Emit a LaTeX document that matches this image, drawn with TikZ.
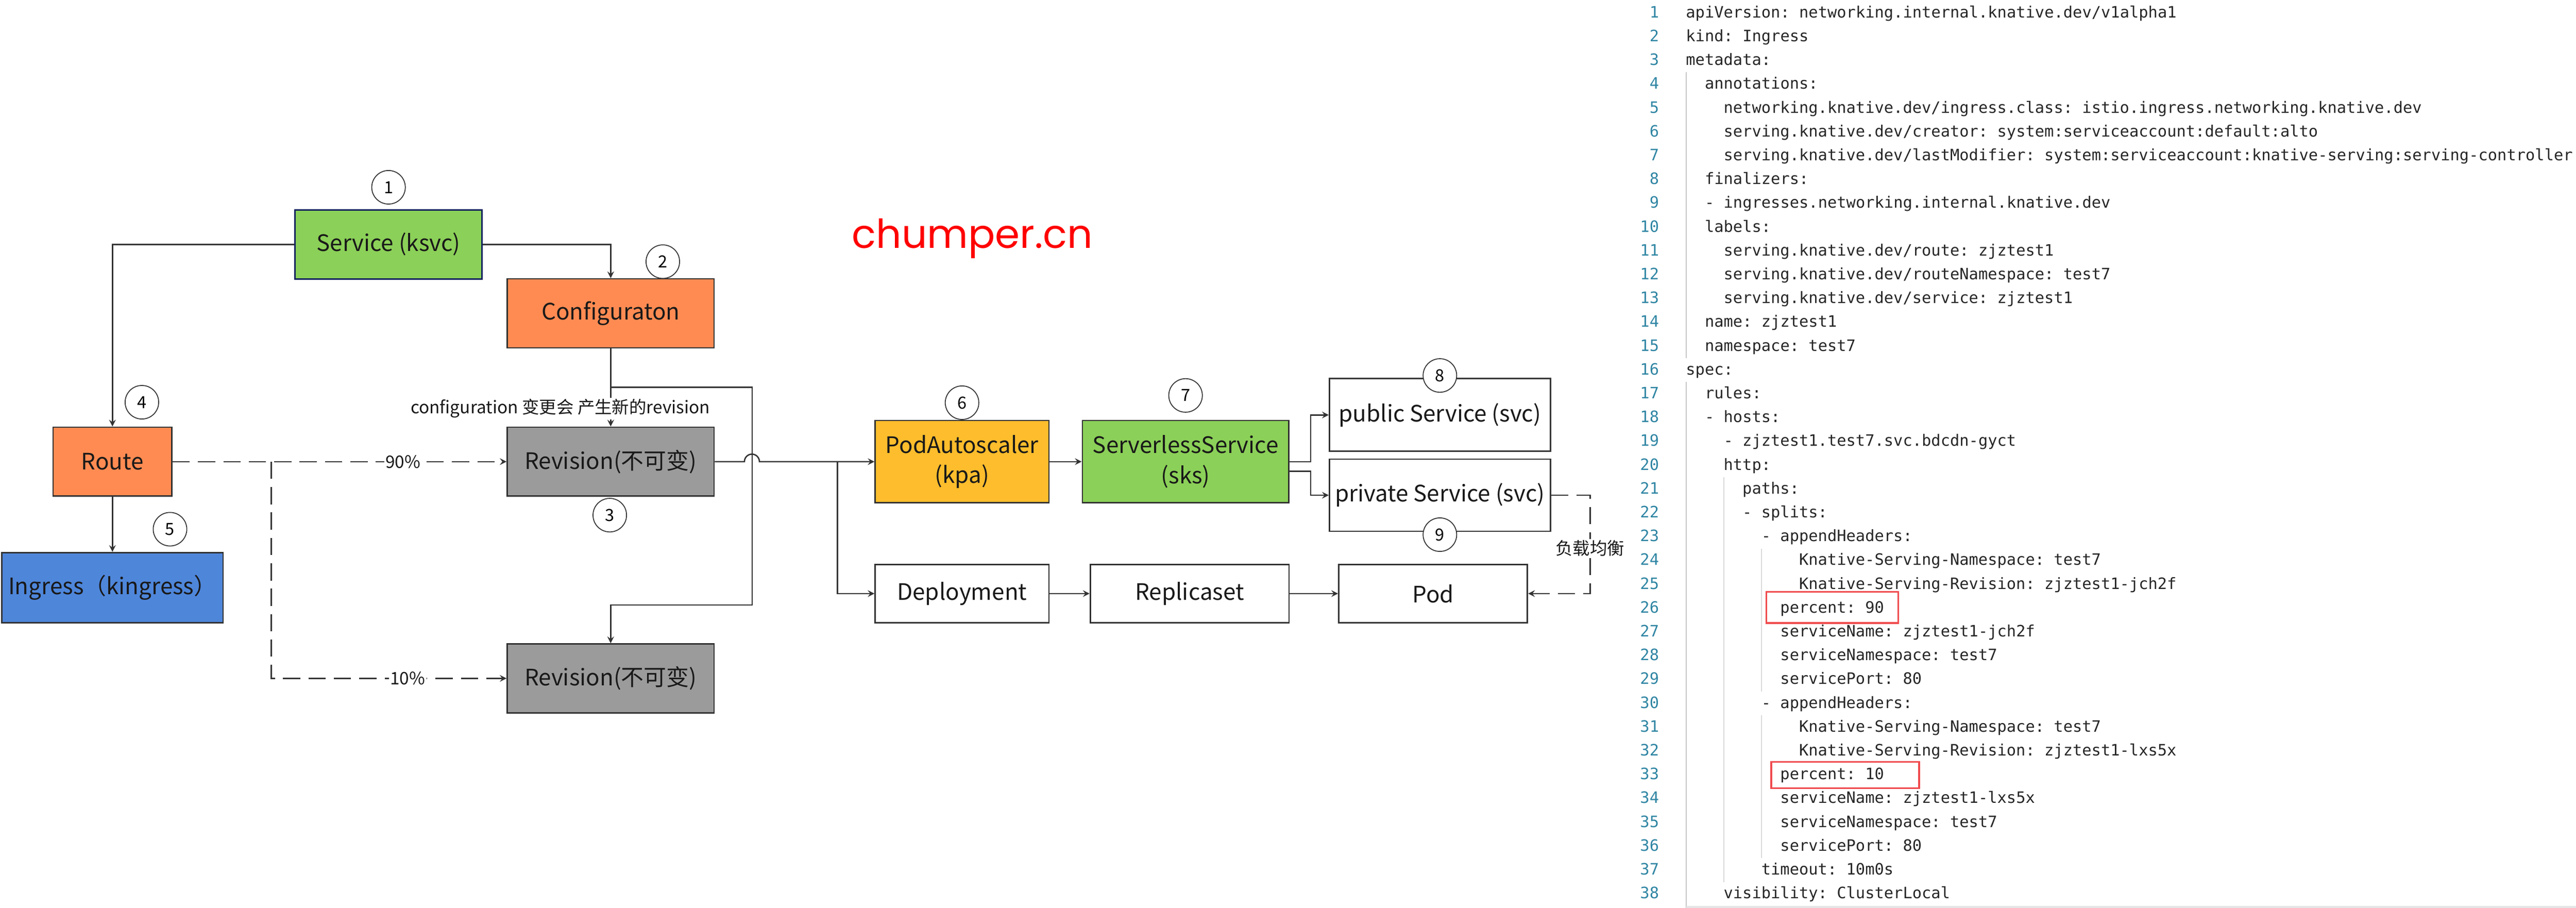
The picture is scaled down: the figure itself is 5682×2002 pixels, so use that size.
\documentclass[tikz,border=0pt]{standalone}
\usepackage{fontspec}
\setmainfont{Noto Sans CJK SC}
\newfontfamily\yamlfont{DejaVu Sans Mono}
\newfontfamily\brandfont{Poppins}
\definecolor{linec}{RGB}{51,51,51}
\definecolor{ksvcgreen}{RGB}{139,208,88}
\definecolor{cfgorange}{RGB}{255,139,82}
\definecolor{revgray}{RGB}{155,155,155}
\definecolor{ingblue}{RGB}{78,134,218}
\definecolor{kpayellow}{RGB}{253,189,44}
\definecolor{navy}{RGB}{20,35,95}
\definecolor{numc}{RGB}{47,133,163}
\definecolor{hired}{RGB}{240,75,78}
\tikzset{
  block/.style={draw=linec, line width=0.03cm, minimum height=1.52cm, text=black!90, align=center, font=\fontsize{14.2}{18.8}\selectfont},
  badge/.style={circle, draw=linec, fill=white, line width=0.02cm, minimum size=0.74cm, inner sep=0pt, font=\fontsize{10.5}{12}\selectfont},
  link/.style={draw=linec, line width=0.03cm, -stealth},
  traffic/.style={link, dash pattern=on 0.38cm off 0.18cm},
  tag/.style={fill=white, inner sep=0.03cm, text=black!90, font=\fontsize{10.8}{13}\selectfont},
  yaml/.style={anchor=base west, inner sep=0pt, text=black!85, font=\yamlfont\frenchspacing\fontsize{9.83}{12}\selectfont},
  lineno/.style={anchor=base east, inner sep=0pt, text=numc, font=\yamlfont\fontsize{9.83}{12}\selectfont},
  indent/.style={draw=gray!30, line width=0.02cm},
  hilite/.style={draw=hired, line width=0.04cm}
}
\begin{document}
\begin{tikzpicture}[x=0.01cm, y=-0.01cm]
\useasboundingbox (0,0) rectangle (5682,2002);
\node[block, fill=ksvcgreen, draw=navy, minimum width=4.12cm] (svc) at (857,539) {Service (ksvc)};
\node[block, fill=cfgorange, minimum width=4.56cm] (conf) at (1347,691) {Configuraton};
\node[block, fill=cfgorange, minimum width=2.62cm] (route) at (248,1018) {Route};
\node[block, fill=revgray, minimum width=4.56cm] (rev1) at (1347,1018) {Revision(不可变)};
\node[block, fill=revgray, minimum width=4.56cm] (rev2) at (1347,1496) {Revision(不可变)};
\node[block, fill=ingblue, minimum width=4.88cm, minimum height=1.55cm] (ing) at (248,1296) {Ingress（kingress）};
\node[block, fill=kpayellow, minimum width=3.83cm, minimum height=1.81cm] (pa) at (2122,1018) {PodAutoscaler\\(kpa)};
\node[block, fill=ksvcgreen, minimum width=4.55cm, minimum height=1.81cm] (sks) at (2615,1018) {ServerlessService\\(sks)};
\node[block, minimum width=4.87cm, minimum height=1.6cm] (pub) at (3176,915) {public Service (svc)};
\node[block, minimum width=4.87cm, minimum height=1.59cm] (priv) at (3176,1092) {private Service (svc)};
\node[block, minimum width=3.83cm, minimum height=1.28cm] (dep) at (2122,1309) {Deployment};
\node[block, minimum width=4.38cm, minimum height=1.28cm] (rs) at (2624,1309) {Replicaset};
\node[block, minimum width=4.16cm, minimum height=1.28cm] (pod) at (3161,1309) {Pod};
\coordinate (fork1) at (1347,854);
\coordinate (fork2) at (598,1018);
\coordinate (fork3) at (1847,1018);
\draw[link] (svc.west) -| (route.north);
\draw[link] (svc.east) -| (conf.north);
\draw[link] (conf) -- node[tag, pos=0.77, xshift=-1.11cm] {configuration 变更会 产生新的revision} (rev1);
\draw[link] (fork1) -- (1659,854) -- (1659,1334) -| (rev2.north);
\draw[link] (route) -- (ing);
\draw[traffic] (route) -- node[tag, pos=0.69] {90\%} (rev1);
\draw[traffic] (fork2) |- node[tag, pos=0.79] {10\%} (rev2.west);
\draw[link] (rev1.east) -- (1642,1018) arc[start angle=180, end angle=0, radius=0.165cm] -- (fork3) -- (pa.west);
\draw[link] (fork3) |- (dep.west);
\draw[link] (pa) -- (sks);
\draw[link] (sks.east) -- ++(47,0) |- (pub.west);
\draw[link] ([yshift=-0.21cm]sks.east) -- ++(47,0) |- (priv.west);
\draw[link] (dep) -- (rs);
\draw[link] (rs) -- (pod);
\draw[traffic] (priv.east) -- ++(86,0) |- node[tag, pos=0.27] {负载均衡} (pod.east);
\node[badge] (b1) at (857,413) {1};
\node[badge] (b2) at (1462,577) {2};
\node[badge] (b3) at (1345,1136) {3};
\node[badge] (b4) at (313,887) {4};
\node[badge] (b5) at (375,1167) {5};
\node[badge] (b6) at (2122,888) {6};
\node[badge] (b7) at (2615,872) {7};
\node[badge] (b8) at (3176,828) {8};
\node[badge] (b9) at (3176,1179) {9};
\node[anchor=base, text=red, font=\brandfont\fontsize{25}{30}\selectfont] (brand) at (2145,547) {chumper.cn};
\draw[indent, draw=gray!45] (3719,159) -- (3719,790);
\draw[indent, draw=gray!45] (3719,842) -- (3719,2002);
\draw[indent] (3802,1052) -- (3802,1945);
\draw[indent] (3885,1210) -- (3885,1525);
\draw[indent] (3885,1577) -- (3885,1892);
\draw[draw=gray!20, line width=0.04cm] (3719,2000) -- (5682,2000);
\foreach \n in {1,...,38}
  \node[lineno] (ln\n) at (3660,{39+(\n-1)*52.5}) {\n};
\node[yaml] (cl1) at (3718,39) {apiVersion: networking.internal.knative.dev/v1alpha1};
\node[yaml] (cl2) at (3718,91.5) {kind: Ingress};
\node[yaml] (cl3) at (3718,144) {metadata:};
\node[yaml] (cl4) at (3759.6,196.5) {annotations:};
\node[yaml] (cl5) at (3801.2,249) {networking.knative.dev/ingress.class: istio.ingress.networking.knative.dev};
\node[yaml] (cl6) at (3801.2,301.5) {serving.knative.dev/creator: system:serviceaccount:default:alto};
\node[yaml] (cl7) at (3801.2,354) {serving.knative.dev/lastModifier: system:serviceaccount:knative-serving:serving-controller};
\node[yaml] (cl8) at (3759.6,406.5) {finalizers:};
\node[yaml] (cl9) at (3759.6,459) {- ingresses.networking.internal.knative.dev};
\node[yaml] (cl10) at (3759.6,511.5) {labels:};
\node[yaml] (cl11) at (3801.2,564) {serving.knative.dev/route: zjztest1};
\node[yaml] (cl12) at (3801.2,616.5) {serving.knative.dev/routeNamespace: test7};
\node[yaml] (cl13) at (3801.2,669) {serving.knative.dev/service: zjztest1};
\node[yaml] (cl14) at (3759.6,721.5) {name: zjztest1};
\node[yaml] (cl15) at (3759.6,774) {namespace: test7};
\node[yaml] (cl16) at (3718,826.5) {spec:};
\node[yaml] (cl17) at (3759.6,879) {rules:};
\node[yaml] (cl18) at (3759.6,931.5) {- hosts:};
\node[yaml] (cl19) at (3801.2,984) {- zjztest1.test7.svc.bdcdn-gyct};
\node[yaml] (cl20) at (3801.2,1036.5) {http:};
\node[yaml] (cl21) at (3842.8,1089) {paths:};
\node[yaml] (cl22) at (3842.8,1141.5) {- splits:};
\node[yaml] (cl23) at (3884.4,1194) {- appendHeaders:};
\node[yaml] (cl24) at (3967.6,1246.5) {Knative-Serving-Namespace: test7};
\node[yaml] (cl25) at (3967.6,1299) {Knative-Serving-Revision: zjztest1-jch2f};
\node[yaml] (cl26) at (3926,1351.5) {percent: 90};
\node[yaml] (cl27) at (3926,1404) {serviceName: zjztest1-jch2f};
\node[yaml] (cl28) at (3926,1456.5) {serviceNamespace: test7};
\node[yaml] (cl29) at (3926,1509) {servicePort: 80};
\node[yaml] (cl30) at (3884.4,1561.5) {- appendHeaders:};
\node[yaml] (cl31) at (3967.6,1614) {Knative-Serving-Namespace: test7};
\node[yaml] (cl32) at (3967.6,1666.5) {Knative-Serving-Revision: zjztest1-lxs5x};
\node[yaml] (cl33) at (3926,1719) {percent: 10};
\node[yaml] (cl34) at (3926,1771.5) {serviceName: zjztest1-lxs5x};
\node[yaml] (cl35) at (3926,1824) {serviceNamespace: test7};
\node[yaml] (cl36) at (3926,1876.5) {servicePort: 80};
\node[yaml] (cl37) at (3884.4,1929) {timeout: 10m0s};
\node[yaml] (cl38) at (3801.2,1981.5) {visibility: ClusterLocal};
\draw[hilite] (3896,1305) rectangle (4187,1374);
\draw[hilite] (3907,1680) rectangle (4233,1738);
\end{tikzpicture}
\end{document}
